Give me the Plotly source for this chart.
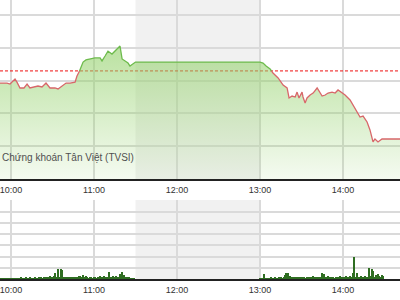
import plotly.graph_objects as go

# ---------------- data ----------------
# price: minutes after 10:00 and index value
price_min = [-9, -5.1, -2.9, -0.7, 1.4, 2.9, 4.3, 6.5, 9.4, 11.6, 13.7, 15.9, 19.5, 22.4,
             25.3, 28.2, 31.8, 34.0, 36.9, 39.8, 42.7, 46.3, 47.7, 49.2, 52.1, 54.2, 57.1,
             60.7, 64.4, 65.8, 68.0, 70.1, 73.0, 75.2, 77.4, 78.8, 80.3, 82.4, 84.6, 86.0,
             88.2, 90.0,
             180.0, 182.2, 184.4, 187.3, 189.4, 193.1, 196.7, 199.6, 201.0, 203.2, 205.4,
             206.8, 208.2, 210.4, 211.1, 212.6, 214.0, 216.2, 218.4, 221.3, 223.4, 224.9,
             227.1, 229.2, 232.1, 234.3, 236.4, 239.3, 241.5, 245.1, 247.3, 250.2, 252.3,
             254.5, 257.4, 259.5, 261.7, 263.1, 265.3, 268.2, 270.4, 285.0]
price_val = [525.85, 525.85, 525.85, 525.79, 525.98, 526.10, 525.91, 525.55, 525.55, 525.79,
             525.55, 525.61, 525.67, 525.61, 525.85, 525.55, 525.55, 525.49, 525.67, 525.85,
             525.85, 525.91, 526.28, 526.52, 527.13, 527.26, 527.32, 527.38, 527.38, 527.20,
             527.50, 527.80, 527.62, 527.80, 527.99, 528.11, 527.32, 527.20, 527.07, 526.89,
             527.01, 527.13,
             527.13, 527.07, 526.89, 526.71, 526.46, 526.16, 525.73, 525.55, 524.94, 525.06,
             525.00, 525.30, 524.94, 525.30, 525.00, 524.63, 524.94, 525.12, 525.24, 525.55,
             525.24, 525.06, 525.12, 525.24, 525.30, 525.24, 525.43, 525.24, 525.12, 524.82,
             524.51, 524.09, 523.78, 523.84, 523.48, 522.99, 522.26, 522.44, 522.26, 522.44,
             522.44, 522.44]
ref_price = 526.59

# volume (thousand shares), one bar per minute
vol_am_start, vol_pm_start = -8, 180
vol_am = [4, 4, 4, 4, 4, 4, 4, 4, 4,
          4, 4, 4, 4, 4, 4, 9, 4, 4, 4,
          9, 4, 4, 9, 4, 4, 9, 4, 4, 9,
          9, 9, 4, 9, 9, 4, 9, 13, 9, 9,
          13, 27, 9, 45, 9, 45, 40, 9, 9, 9,
          9, 9, 9, 9, 9, 9, 4, 9, 13, 13,
          9, 18, 9, 13, 9, 4, 9, 9, 4, 9,
          9, 4, 9, 13, 9, 9, 13, 9, 9, 9,
          31, 9, 9, 13, 9, 13, 9, 9, 22, 31,
          13, 18, 9, 9, 9, 4, 4, 4, 4]
vol_pm = [4, 4, 4, 22, 4, 4, 4, 4, 9, 4,
          4, 9, 4, 4, 9, 9, 4, 9, 18, 27,
          27, 13, 13, 9, 9, 9, 9, 9, 9, 9,
          9, 9, 9, 4, 9, 9, 9, 9, 13, 9,
          9, 9, 9, 9, 9, 27, 22, 9, 9, 13,
          9, 9, 9, 9, 4, 9, 9, 9, 13, 9,
          9, 9, 13, 9, 9, 13, 9, 27, 98, 9,
          27, 9, 9, 13, 9, 9, 13, 9, 9, 49,
          13, 45, 36, 9, 18, 22, 13, 9, 18, 13]

tick_vals = [0, 60, 120, 180, 240]
tick_text = ["10:00", "11:00", "12:00", "13:00", "14:00"]
lunch = (90, 180)
watermark = "Chứng khoán Tân Việt (TVSI)"

# ---------------- build line segments (green above ref, red below) ----------------
pts = []
for i in range(len(price_min)):
    if i > 0:
        x0, y0 = price_min[i - 1], price_val[i - 1]
        x1, y1 = price_min[i], price_val[i]
        if (y0 - ref_price) * (y1 - ref_price) < 0:
            f = (ref_price - y0) / (y1 - y0)
            pts.append((x0 + f * (x1 - x0), ref_price))
    pts.append((price_min[i], price_val[i]))

def seg(cond):
    xs, ys = [], []
    prev_ok = False
    for x, y in pts:
        ok = cond(y)
        if ok:
            xs.append(x); ys.append(y)
        elif prev_ok:
            xs.append(None); ys.append(None)
        prev_ok = ok
    return xs, ys

gx, gy = seg(lambda v: v >= ref_price - 1e-9)
rx, ry = seg(lambda v: v <= ref_price + 1e-9)

x_range = [-11 / (83 / 60), 389 / (83 / 60)]
y_top_range = [520, 520 + 179 / 16.4]
y_vol_range = [0, 79 / 11.2 * 50]

fig = go.Figure()

# reference dashed line (under fill)
fig.add_trace(go.Scatter(x=x_range, y=[ref_price, ref_price], mode="lines",
                         line=dict(color="#ee1111", width=1, dash="3px,2px"),
                         hoverinfo="skip", showlegend=False, xaxis="x", yaxis="y"))
# fill
fig.add_trace(go.Scatter(x=price_min, y=price_val, mode="none", fill="tozeroy",
                         fillgradient=dict(type="vertical", start=520, stop=528.2,
                                           colorscale=[[0, "rgba(150,210,110,0.10)"],
                                                       [1, "rgba(150,210,110,0.66)"]]),
                         showlegend=False, xaxis="x", yaxis="y"))
fig.add_trace(go.Scatter(x=rx, y=ry, mode="lines", line=dict(color="#d8676a", width=1.3),
                         showlegend=False, xaxis="x", yaxis="y"))
fig.add_trace(go.Scatter(x=gx, y=gy, mode="lines", line=dict(color="#6dbb4c", width=1.3),
                         showlegend=False, xaxis="x", yaxis="y"))

# volume
vol_x = list(range(vol_am_start, vol_am_start + len(vol_am))) + \
        list(range(vol_pm_start, vol_pm_start + len(vol_pm)))
fig.add_trace(go.Bar(x=vol_x, y=vol_am + vol_pm, width=0.75,
                     marker=dict(color="#2f6e22", line=dict(width=0)),
                     showlegend=False, xaxis="x2", yaxis="y2"))

grid = "#dadada"
tfont = dict(family="Liberation Sans, Arial", size=9, color="#333333")
axis_x = dict(range=x_range, tickvals=tick_vals, ticktext=tick_text, showgrid=True,
              gridcolor=grid, gridwidth=2, showline=True, linecolor="#222222", linewidth=1.5,
              ticks="", tickfont=tfont, zeroline=False, fixedrange=True,
              ticklabeloverflow="allow", ticklabelstandoff=1)

fig.update_layout(
    width=400, height=300, margin=dict(l=0, r=0, t=0, b=0), autosize=False,
    paper_bgcolor="white", plot_bgcolor="white", bargap=0,
    xaxis=dict(axis_x, domain=[0, 1], anchor="y"),
    yaxis=dict(domain=[1 - 179 / 300, 1], range=y_top_range, dtick=2, tick0=520,
               showgrid=True, gridcolor=grid, gridwidth=2, showticklabels=False,
               zeroline=False, showline=False),
    xaxis2=dict(axis_x, domain=[0, 1], anchor="y2"),
    yaxis2=dict(domain=[1 - 279 / 300, 1 - 200 / 300], range=y_vol_range, dtick=50,
                showgrid=True, gridcolor=grid, gridwidth=2, showticklabels=False,
                zeroline=False, showline=False),
    shapes=[
        dict(type="rect", xref="x", yref="y domain", x0=lunch[0], x1=lunch[1], y0=0, y1=1,
             fillcolor="#f1f1f1", line=dict(width=0), layer="below"),
        dict(type="rect", xref="x2", yref="y2 domain", x0=lunch[0], x1=lunch[1], y0=0, y1=1,
             fillcolor="#f1f1f1", line=dict(width=0), layer="below"),
    ],
    annotations=[dict(text=watermark, xref="paper", yref="paper", x=0.0, y=1 - 157 / 300,
                      xanchor="left", yanchor="middle", showarrow=False,
                      font=dict(family="Liberation Sans, Arial", size=10, color="#505050"))],
)

fig.write_html("out.html")
